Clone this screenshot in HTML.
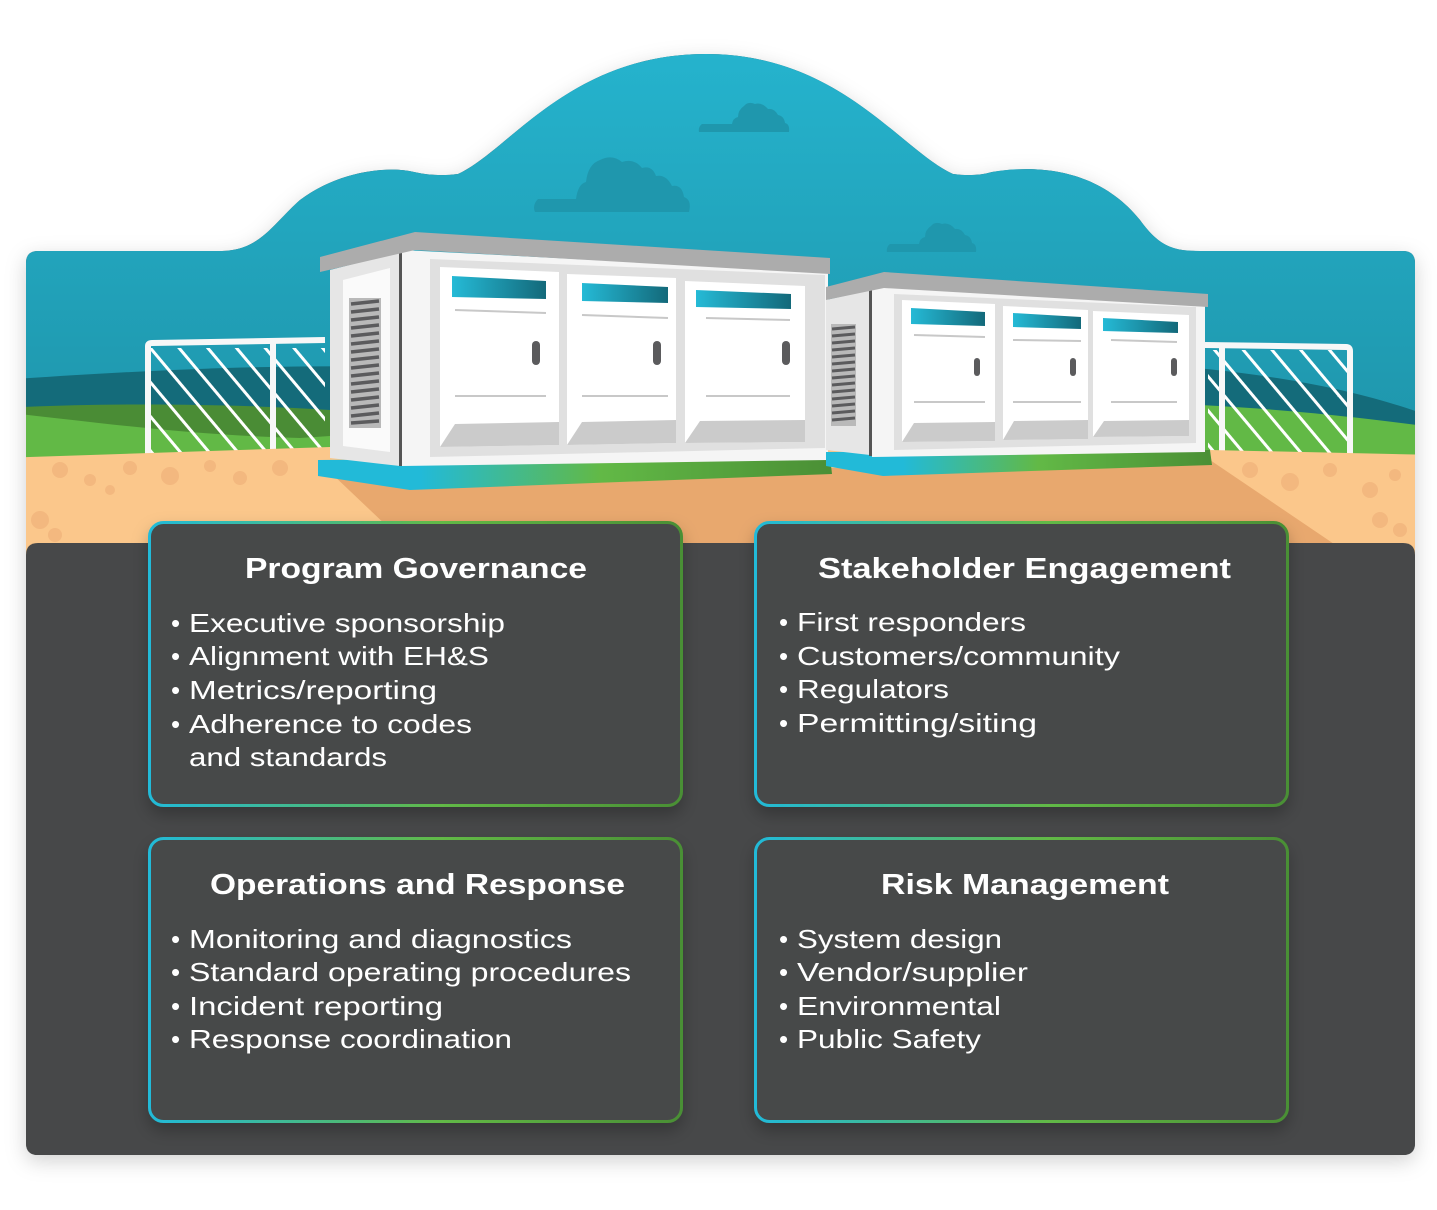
<!DOCTYPE html>
<html><head><meta charset="utf-8"><style>
html,body{margin:0;padding:0;background:#fff;width:1437px;height:1210px;overflow:hidden}
svg text{font-family:"Liberation Sans",sans-serif;fill:#fff}
.t{font-weight:bold;font-size:29px}
.b{font-size:26px}
</style></head><body>
<svg width="1437" height="1210" viewBox="0 0 1437 1210" xmlns="http://www.w3.org/2000/svg">
<defs>
<linearGradient id="sky" gradientUnits="userSpaceOnUse" x1="0" y1="54" x2="0" y2="420"><stop offset="0" stop-color="#25b3cd"/><stop offset="1" stop-color="#1f97ad"/></linearGradient>
<linearGradient id="bd" x1="0" y1="0" x2="1" y2="0"><stop offset="0" stop-color="#22bad8"/><stop offset="0.55" stop-color="#62b946"/><stop offset="1" stop-color="#4a8f35"/></linearGradient>
<linearGradient id="base" x1="0" y1="0" x2="1" y2="0"><stop offset="0" stop-color="#22bad8"/><stop offset="0.2" stop-color="#22bad8"/><stop offset="0.55" stop-color="#62b946"/><stop offset="1" stop-color="#4a8f35"/></linearGradient>
<linearGradient id="hdr" x1="0" y1="0" x2="1" y2="0"><stop offset="0" stop-color="#25bad6"/><stop offset="1" stop-color="#13697a"/></linearGradient>
<clipPath id="main"><path id="mp" d="M26,263 Q26,251 38,251 L222,251 C260,250 272,225 300,200 C340,170 390,166 414,172 Q436,177 458,174 C510,150 570,54 706,54 C840,54 900,150 953,174 Q975,177 992,172 C1040,164 1100,170 1140,220 C1160,248 1175,251 1200,251 L1403,251 Q1415,251 1415,263 L1415,1143 Q1415,1155 1403,1155 L38,1155 Q26,1155 26,1143 Z"/></clipPath>
<filter id="sh" x="-10%" y="-10%" width="120%" height="130%"><feDropShadow dx="0" dy="8" stdDeviation="8" flood-color="#000" flood-opacity="0.25"/></filter>
<filter id="sh2" x="-5%" y="-5%" width="110%" height="115%"><feDropShadow dx="0" dy="6" stdDeviation="10" flood-color="#000" flood-opacity="0.18"/></filter>
<pattern id="hatch" patternUnits="userSpaceOnUse" width="22" height="22" patternTransform="rotate(-40)"><rect x="0" y="0" width="3" height="22" fill="#fff"/></pattern>
</defs>

<use href="#mp" fill="#474849" filter="url(#sh2)"/>
<g clip-path="url(#main)">
<rect x="0" y="40" width="1437" height="520" fill="url(#sky)"/>
<g fill="#1f97ad">
<path d="M535,212 L689,212 Q692,200 684,197 Q682,184 672,186 Q666,174 656,176 Q652,165 642,168 Q634,158 622,162 Q612,154 600,160 Q588,164 586,182 Q578,184 576,199 L538,199 Q532,205 535,212Z"/>
<path d="M699,132 L789,132 Q790,124 785,123 Q784,116 778,115 Q774,108 768,109 Q762,102 755,104 Q748,101 744,106 Q738,110 738,117 Q733,118 732,124 L702,124 Q698,127 699,132Z"/>
<path d="M887,252 L976,252 Q977,244 972,243 Q971,236 965,235 Q961,228 955,229 Q949,222 942,224 Q935,221 931,226 Q925,230 925,237 Q920,238 919,244 L890,244 Q886,247 887,252Z"/>
</g>
<path d="M0,380 C120,372 300,360 500,370 L500,560 L0,560Z" fill="#146b7a"/>
<path d="M1100,360 C1250,370 1350,385 1440,420 L1440,560 L1100,560Z" fill="#146b7a"/>
<path d="M0,408 C80,404 200,402 330,410 L330,560 L0,560Z" fill="#4a8c35"/>
<path d="M0,412 C80,420 180,435 300,438 L330,436 L330,560 L0,560Z" fill="#62b946"/>
<path d="M1200,405 C1300,410 1380,420 1440,428 L1440,560 L1200,560Z" fill="#62b946"/>
<g>
<rect x="150" y="348" width="175" height="110" fill="url(#hatch)"/>
<path d="M148,458 L148,346 Q148,343 152,343 L325,340" fill="none" stroke="#f7f7f7" stroke-width="6"/>
<rect x="270" y="342" width="6" height="116" fill="#f7f7f7"/>
<rect x="1208" y="350" width="140" height="108" fill="url(#hatch)"/>
<path d="M1205,345 L1346,347 Q1350,347 1350,351 L1350,458" fill="none" stroke="#f7f7f7" stroke-width="6"/>
<rect x="1219" y="344" width="6" height="114" fill="#f7f7f7"/>
</g>
<path d="M0,458 L330,447 L1210,450 L1440,455 L1440,560 L0,560Z" fill="#fbc78b"/>
<g fill="#f0b27a" opacity="0.7">
<circle cx="60" cy="470" r="8"/><circle cx="90" cy="480" r="6"/><circle cx="130" cy="468" r="7"/><circle cx="170" cy="476" r="9"/><circle cx="210" cy="466" r="6"/><circle cx="240" cy="478" r="7"/><circle cx="280" cy="468" r="8"/><circle cx="40" cy="520" r="9"/><circle cx="55" cy="535" r="7"/><circle cx="110" cy="490" r="5"/>
<circle cx="1250" cy="470" r="8"/><circle cx="1290" cy="482" r="9"/><circle cx="1330" cy="470" r="7"/><circle cx="1370" cy="490" r="8"/><circle cx="1395" cy="475" r="6"/><circle cx="1380" cy="520" r="8"/><circle cx="1400" cy="530" r="7"/>
</g>
<path d="M330,472 L832,468 L1210,460 L1340,548 L410,548 Z" fill="#e8a86e"/>
</g>

<g>
<polygon points="318,460 830,456 832,474 410,490 318,476" fill="url(#base)"/>
<polygon points="330,270 400,252 400,466 330,458" fill="#e6e6e6"/>
<polygon points="343,280 390,268 390,452 343,446" fill="#fafafa"/>
<rect x="349" y="298" width="32" height="130" fill="#b9b9b9"/>
<g stroke="#5b5b5d" stroke-width="3.5">
<line x1="351" y1="304" x2="379" y2="301"/><line x1="351" y1="312" x2="379" y2="309"/><line x1="351" y1="320" x2="379" y2="317"/><line x1="351" y1="328" x2="379" y2="325"/><line x1="351" y1="336" x2="379" y2="333"/><line x1="351" y1="344" x2="379" y2="341"/><line x1="351" y1="352" x2="379" y2="349"/><line x1="351" y1="360" x2="379" y2="357"/><line x1="351" y1="368" x2="379" y2="365"/><line x1="351" y1="376" x2="379" y2="373"/><line x1="351" y1="384" x2="379" y2="381"/><line x1="351" y1="392" x2="379" y2="389"/><line x1="351" y1="400" x2="379" y2="397"/><line x1="351" y1="408" x2="379" y2="405"/><line x1="351" y1="416" x2="379" y2="413"/><line x1="351" y1="423" x2="379" y2="421"/>
</g>
<rect x="399" y="252" width="3" height="214" fill="#555"/>
<polygon points="402,250 828,272 828,460 402,466" fill="#f5f5f5"/>
<polygon points="430,259 825,275 825,448 430,457" fill="#e0e0e0"/>
<polygon points="440,267 559,272 559,445 440,447" fill="#fff"/>
<polygon points="567,274 676,278 676,443 567,445" fill="#fff"/>
<polygon points="685,281 805,286 805,442 685,443" fill="#fff"/>
<polygon points="440,447 455,424 559,422 559,445" fill="#cbcbcb"/>
<polygon points="567,445 582,422 676,420 676,443" fill="#cbcbcb"/>
<polygon points="685,443 700,421 805,420 805,442" fill="#cbcbcb"/>
<polygon points="452,276 546,281 546,299 452,297" fill="url(#hdr)"/>
<polygon points="582,283 668,287 668,303 582,301" fill="url(#hdr)"/>
<polygon points="696,290 791,294 791,309 696,307" fill="url(#hdr)"/>
<g stroke="#c8c8c8" stroke-width="2">
<line x1="455" y1="310" x2="546" y2="313"/><line x1="582" y1="315" x2="668" y2="318"/><line x1="706" y1="318" x2="790" y2="320"/>
<line x1="455" y1="396" x2="546" y2="396"/><line x1="582" y1="396" x2="668" y2="396"/><line x1="706" y1="396" x2="790" y2="396"/>
</g>
<rect x="532" y="341" width="8" height="24" rx="4" fill="#5b5b5d"/><rect x="653" y="341" width="8" height="24" rx="4" fill="#5b5b5d"/><rect x="782" y="341" width="8" height="24" rx="4" fill="#5b5b5d"/>
<polygon points="320,257 415,232 830,258 830,274 415,250 320,272" fill="#acacac"/>
</g>

<g>
<polygon points="826,452 1210,450 1212,465 883,476 826,466" fill="url(#base)"/>
<polygon points="826,300 870,290 870,455 826,450" fill="#e6e6e6"/>
<rect x="831" y="324" width="25" height="102" fill="#b9b9b9"/>
<g stroke="#5b5b5d" stroke-width="3">
<line x1="832" y1="329" x2="855" y2="327"/><line x1="832" y1="336" x2="855" y2="334"/><line x1="832" y1="343" x2="855" y2="341"/><line x1="832" y1="350" x2="855" y2="348"/><line x1="832" y1="357" x2="855" y2="355"/><line x1="832" y1="364" x2="855" y2="362"/><line x1="832" y1="371" x2="855" y2="369"/><line x1="832" y1="378" x2="855" y2="376"/><line x1="832" y1="385" x2="855" y2="383"/><line x1="832" y1="392" x2="855" y2="390"/><line x1="832" y1="399" x2="855" y2="397"/><line x1="832" y1="406" x2="855" y2="404"/><line x1="832" y1="413" x2="855" y2="411"/><line x1="832" y1="420" x2="855" y2="418"/>
</g>
<rect x="869" y="290" width="3" height="166" fill="#555"/>
<polygon points="872,287 1205,302 1205,452 872,457" fill="#f5f5f5"/>
<polygon points="894,294 1196,307 1196,443 894,450" fill="#e0e0e0"/>
<polygon points="902,300 995,304 995,441 902,442" fill="#fff"/>
<polygon points="1003,306 1088,310 1088,439 1003,440" fill="#fff"/>
<polygon points="1093,311 1189,315 1189,436 1093,437" fill="#fff"/>
<polygon points="902,442 914,423 995,422 995,441" fill="#cbcbcb"/>
<polygon points="1003,440 1014,421 1088,420 1088,439" fill="#cbcbcb"/>
<polygon points="1093,437 1104,421 1189,420 1189,436" fill="#cbcbcb"/>
<polygon points="911,308 985,312 985,326 911,324" fill="url(#hdr)"/>
<polygon points="1013,313 1081,317 1081,329 1013,327" fill="url(#hdr)"/>
<polygon points="1103,318 1178,322 1178,333 1103,331" fill="url(#hdr)"/>
<g stroke="#c8c8c8" stroke-width="2">
<line x1="914" y1="335" x2="985" y2="337"/><line x1="1013" y1="340" x2="1081" y2="341"/><line x1="1111" y1="340" x2="1177" y2="342"/>
<line x1="914" y1="402" x2="985" y2="402"/><line x1="1013" y1="402" x2="1081" y2="402"/><line x1="1111" y1="402" x2="1177" y2="402"/>
</g>
<rect x="974" y="358" width="6" height="18" rx="3" fill="#5b5b5d"/><rect x="1070" y="358" width="6" height="18" rx="3" fill="#5b5b5d"/><rect x="1171" y="358" width="6" height="18" rx="3" fill="#5b5b5d"/>
<polygon points="826,287 884,272 1208,294 1208,307 884,288 826,300" fill="#acacac"/>
</g>

<path d="M26,555 Q26,543 38,543 L1403,543 Q1415,543 1415,555 L1415,1143 Q1415,1155 1403,1155 L38,1155 Q26,1155 26,1143 Z" fill="#474849"/>

<g filter="url(#sh)">
<rect x="149.5" y="522.5" width="532" height="283" rx="14" fill="#474849" stroke="url(#bd)" stroke-width="3"/>
<rect x="755.5" y="522.5" width="532" height="283" rx="14" fill="#474849" stroke="url(#bd)" stroke-width="3"/>
<rect x="149.5" y="838.5" width="532" height="283" rx="14" fill="#474849" stroke="url(#bd)" stroke-width="3"/>
<rect x="755.5" y="838.5" width="532" height="283" rx="14" fill="#474849" stroke="url(#bd)" stroke-width="3"/>
</g>

<text class="t" x="245" y="578" textLength="342" lengthAdjust="spacingAndGlyphs">Program Governance</text>
<text class="b" x="171" y="632">•</text><text class="b" x="189" y="632" textLength="316" lengthAdjust="spacingAndGlyphs">Executive sponsorship</text>
<text class="b" x="171" y="665">•</text><text class="b" x="189" y="665" textLength="300" lengthAdjust="spacingAndGlyphs">Alignment with EH&amp;S</text>
<text class="b" x="171" y="699">•</text><text class="b" x="189" y="699" textLength="248" lengthAdjust="spacingAndGlyphs">Metrics/reporting</text>
<text class="b" x="171" y="733">•</text><text class="b" x="189" y="733" textLength="283" lengthAdjust="spacingAndGlyphs">Adherence to codes</text>
<text class="b" x="189" y="766" textLength="198" lengthAdjust="spacingAndGlyphs">and standards</text>

<text class="t" x="818" y="578" textLength="413" lengthAdjust="spacingAndGlyphs">Stakeholder Engagement</text>
<text class="b" x="779" y="631">•</text><text class="b" x="797" y="631" textLength="229" lengthAdjust="spacingAndGlyphs">First responders</text>
<text class="b" x="779" y="665">•</text><text class="b" x="797" y="665" textLength="323" lengthAdjust="spacingAndGlyphs">Customers/community</text>
<text class="b" x="779" y="698">•</text><text class="b" x="797" y="698" textLength="152" lengthAdjust="spacingAndGlyphs">Regulators</text>
<text class="b" x="779" y="732">•</text><text class="b" x="797" y="732" textLength="240" lengthAdjust="spacingAndGlyphs">Permitting/siting</text>

<text class="t" x="210" y="894" textLength="415" lengthAdjust="spacingAndGlyphs">Operations and Response</text>
<text class="b" x="171" y="948">•</text><text class="b" x="189" y="948" textLength="383" lengthAdjust="spacingAndGlyphs">Monitoring and diagnostics</text>
<text class="b" x="171" y="981">•</text><text class="b" x="189" y="981" textLength="442" lengthAdjust="spacingAndGlyphs">Standard operating procedures</text>
<text class="b" x="171" y="1015">•</text><text class="b" x="189" y="1015" textLength="254" lengthAdjust="spacingAndGlyphs">Incident reporting</text>
<text class="b" x="171" y="1048">•</text><text class="b" x="189" y="1048" textLength="323" lengthAdjust="spacingAndGlyphs">Response coordination</text>

<text class="t" x="881" y="894" textLength="288" lengthAdjust="spacingAndGlyphs">Risk Management</text>
<text class="b" x="779" y="948">•</text><text class="b" x="797" y="948" textLength="205" lengthAdjust="spacingAndGlyphs">System design</text>
<text class="b" x="779" y="981">•</text><text class="b" x="797" y="981" textLength="231" lengthAdjust="spacingAndGlyphs">Vendor/supplier</text>
<text class="b" x="779" y="1015">•</text><text class="b" x="797" y="1015" textLength="204" lengthAdjust="spacingAndGlyphs">Environmental</text>
<text class="b" x="779" y="1048">•</text><text class="b" x="797" y="1048" textLength="184" lengthAdjust="spacingAndGlyphs">Public Safety</text>
</svg>
</body></html>
